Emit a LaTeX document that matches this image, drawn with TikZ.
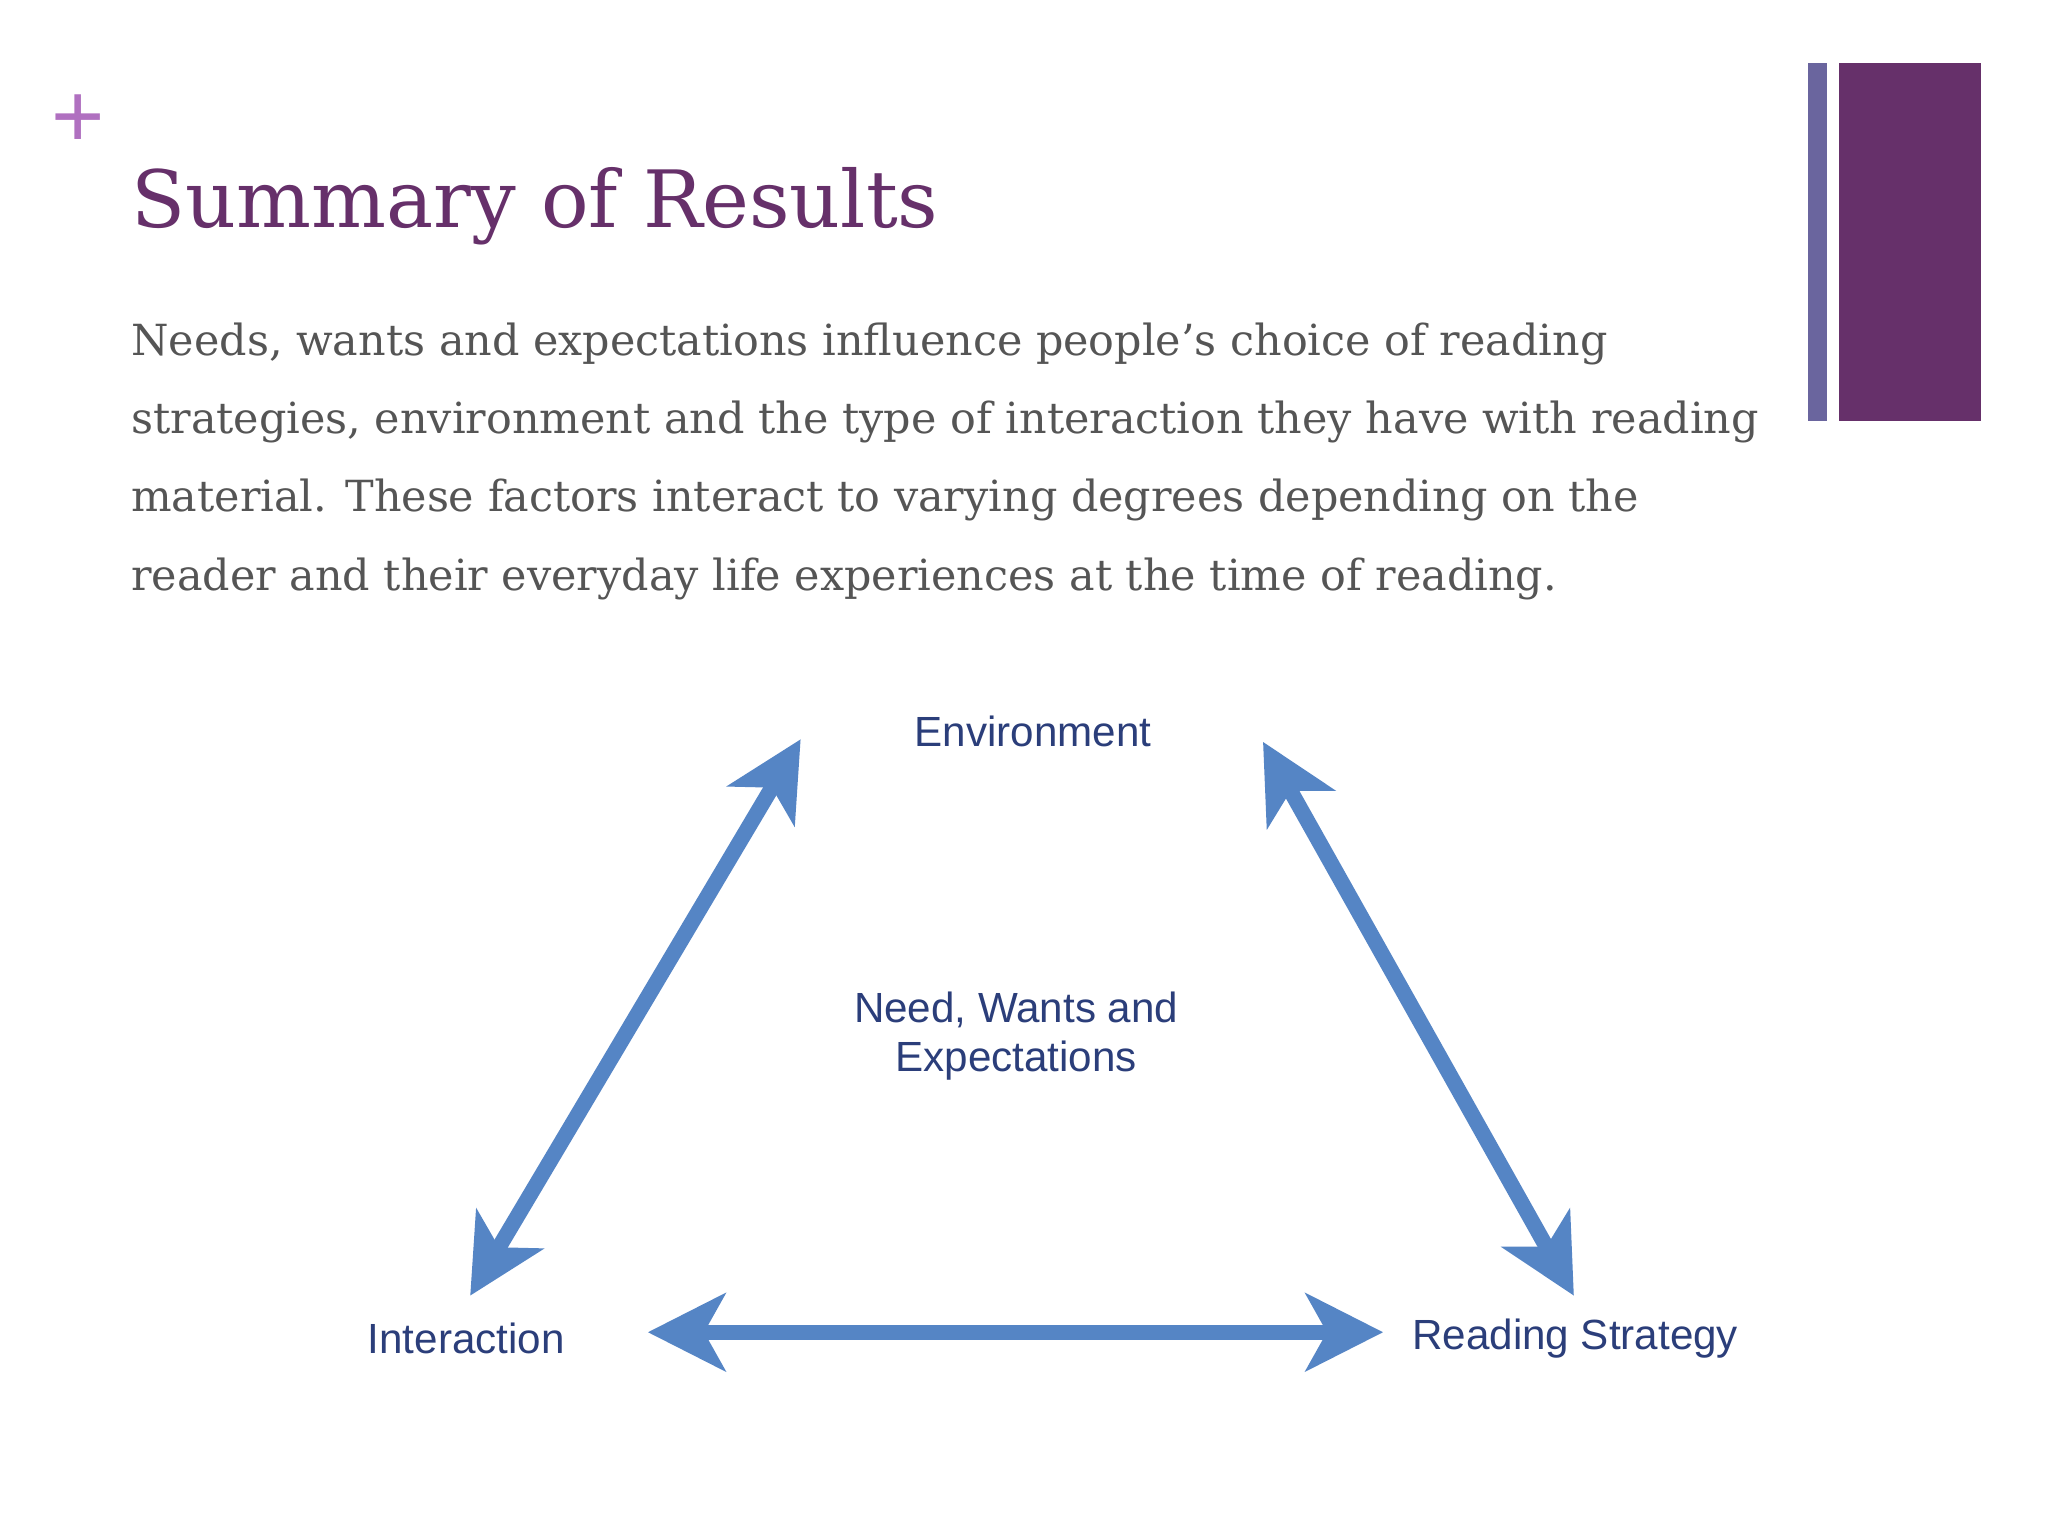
\documentclass[tikz,border=0pt]{standalone}
\usepackage{fontspec}
\setmainfont{DejaVu Serif}
\setsansfont{Liberation Sans}
\usetikzlibrary{arrows.meta}
\definecolor{ttl}{HTML}{66306A}
\definecolor{bodyc}{HTML}{555555}
\definecolor{lbl}{HTML}{2B3E7A}
\definecolor{arr}{HTML}{5585C5}
\definecolor{barA}{HTML}{6A659E}
\definecolor{plusc}{HTML}{B070C0}
\tikzset{
  bodyline/.style={anchor=base west,inner sep=0,text=bodyc,font=\fontsize{12.2}{14}\selectfont},
  lab/.style={text=lbl,font=\sffamily\fontsize{12}{14}\selectfont,align=center},
  bigarrow/.style={draw=arr,line width=4.4pt,{Stealth[length=22pt,width=22pt,inset=6pt]}-{Stealth[length=22pt,width=22pt,inset=6pt]}}
}
\begin{document}
\begin{tikzpicture}[x=0.01306cm,y=-0.01306cm]
\useasboundingbox[fill=white] (0,0) rectangle (1568,1176);
\fill[barA] (1384,48) rectangle (1399,322);
\fill[ttl] (1408,48) rectangle (1517,322);
\node[text=plusc,font=\fontsize{26}{26}\selectfont\sffamily,inner sep=0] (plus) at (60,93) {+};
\node[anchor=base west,inner sep=0,text=ttl,font=\fontsize{22.5}{26}\selectfont] (title) at (100,174) {Summary of Results};
\node[bodyline] (l1) at (100,272) {Needs, wants and expectations influence people’s choice of reading};
\node[bodyline] (l2) at (100,332) {strategies, environment and the type of interaction they have with reading};
\node[bodyline] (l3) at (100,392) {material. These factors interact to varying degrees depending on the};
\node[bodyline] (l4) at (100,452) {reader and their everyday life experiences at the time of reading.};
\node[lab] (env) at (791,560) {Environment};
\node[lab] (ctr) at (778,793) {Need, Wants and\\Expectations};
\node[lab] (int) at (357,1025) {Interaction};
\node[lab] (rs) at (1206,1025) {Reading Strategy};
\coordinate (a1) at (360,992);
\coordinate (a2) at (613,566);
\coordinate (b1) at (967,568);
\coordinate (b2) at (1205,992);
\coordinate (c1) at (496,1020);
\coordinate (c2) at (1059,1020);
\draw[bigarrow] (a1) -- (a2);
\draw[bigarrow] (b1) -- (b2);
\draw[bigarrow] (c1) -- (c2);
\end{tikzpicture}
\end{document}
